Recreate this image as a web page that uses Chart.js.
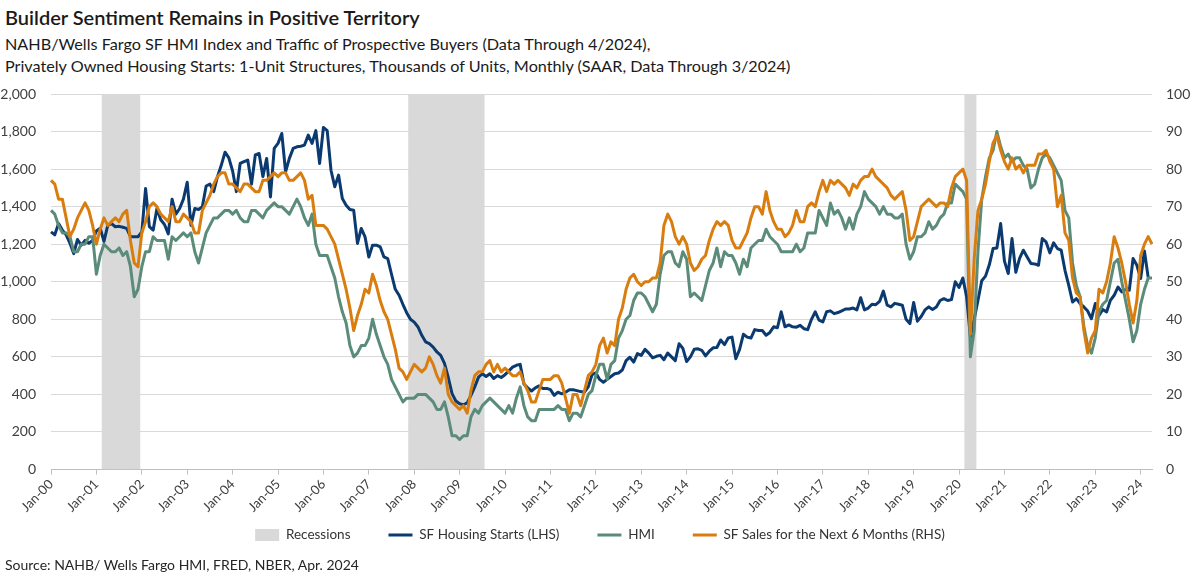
<!DOCTYPE html>
<html><head><meta charset="utf-8">
<script src="https://cdn.jsdelivr.net/npm/chart.js@4.4.1/dist/chart.umd.min.js"></script>
<style>
html,body{margin:0;padding:0;background:#fff;}
body{width:1200px;height:575px;position:relative;overflow:hidden;font-family:Lato,"Open Sans",sans-serif;color:#1a1a1a;}
#title{position:absolute;left:5px;top:5px;font-size:20px;font-weight:600;white-space:nowrap;}
#sub{position:absolute;left:5px;top:33px;font-size:16.2px;line-height:22px;white-space:nowrap;}
#src{position:absolute;left:5px;top:556px;font-size:14px;white-space:nowrap;color:#262626;}
canvas{position:absolute;left:0;top:0;}
</style></head><body>
<div id="title">Builder Sentiment Remains in Positive Territory</div>
<div id="sub">NAHB/Wells Fargo SF HMI Index and Traffic of Prospective Buyers (Data Through 4/2024),<br>Privately Owned Housing Starts: 1-Unit Structures, Thousands of Units, Monthly (SAAR, Data Through 3/2024)</div>
<canvas id="c" width="1200" height="575"></canvas>
<div id="src">Source: NAHB/ Wells Fargo HMI, FRED, NBER, Apr. 2024</div>
<script>
// ---- categories ----
const monthNames = ['Jan','Feb','Mar','Apr','May','Jun','Jul','Aug','Sep','Oct','Nov','Dec'];
const firstYear = 2000, lastYear = 2024, lastMonthOfLastYear = 4;

// ---- recession periods (NBER, as drawn) ----
const recessionPeriods = [['Mar-01','Dec-01'],['Dec-07','Jul-09'],['Mar-20','May-20']];

// ---- SF Housing Starts (thousands, SAAR, LHS), Jan-00 .. Mar-24 ----
const starts = [
1266,1250,1310,1275,1250,1205,1150,1225,1195,1220,1205,1220,
1270,1285,1215,1300,1310,1293,1295,1290,1284,1240,1240,1240,
1265,1497,1293,1275,1390,1330,1305,1255,1440,1360,1390,1440,
1530,1300,1390,1385,1400,1510,1520,1480,1560,1620,1690,1660,
1590,1480,1630,1640,1648,1520,1675,1683,1560,1657,1452,1710,
1737,1790,1586,1657,1710,1719,1722,1728,1781,1737,1805,1630,
1822,1805,1594,1506,1568,1443,1408,1385,1381,1204,1284,1239,
1132,1195,1195,1186,1132,1123,1040,960,928,880,835,800,
785,759,715,680,670,652,626,608,565,490,404,365,
350,345,355,395,440,492,510,495,510,485,500,490,
505,525,545,555,560,455,435,418,435,445,432,432,
425,395,412,403,412,425,425,420,415,412,440,505,
515,480,465,480,495,510,514,530,580,598,572,617,
608,640,620,595,603,608,585,620,600,580,670,645,
575,600,640,643,635,605,630,648,650,690,665,700,
705,590,640,720,705,700,745,740,740,715,730,760,
755,840,760,770,760,758,768,750,745,800,840,795,
786,840,845,830,836,845,855,855,860,850,915,850,
860,880,878,895,950,875,866,885,880,875,800,777,
890,790,815,850,866,852,865,900,910,900,905,1000,
970,1020,920,706,800,900,1005,1030,1090,1177,1180,1310,
1110,1044,1230,1050,1124,1168,1132,1097,1095,1088,1230,1212,
1154,1207,1177,1168,1061,981,892,910,884,866,844,803,
884,821,852,839,901,928,972,946,959,955,1124,1088,
1017,1164,1022
];

// ---- NAHB/Wells Fargo HMI (RHS), Jan-00 .. Apr-24 ----
const hmi = [
69,68,65,63,63,62,58,58,60,60,62,62,
52,57,60,59,58,58,59,57,58,54,46,48,
54,58,58,62,61,61,61,56,62,61,62,63,
62,63,58,55,59,63,65,67,67,68,69,69,
68,69,67,66,66,69,69,68,67,69,70,71,
70,70,69,68,70,72,70,67,65,68,60,57,
57,57,54,51,46,42,39,33,30,31,33,33,
35,40,36,33,30,28,24,22,20,18,19,19,
19,20,20,20,19,18,16,16,18,14,9,9,
8,9,9,14,16,15,17,18,19,18,17,16,
15,17,15,19,22,17,14,13,13,16,16,16,
16,16,17,16,16,13,15,15,14,17,20,21,
25,28,28,24,28,29,35,37,40,41,45,47,
47,46,44,42,44,52,57,58,58,55,54,58,
56,46,47,46,45,49,53,55,59,54,58,57,
57,55,52,56,54,59,60,61,61,64,62,61,
60,58,58,58,58,60,58,59,63,63,63,69,
67,65,71,68,69,67,64,67,64,68,70,74,
72,71,70,68,70,68,68,67,67,68,60,56,
58,62,62,63,66,64,65,67,68,71,71,76,
75,74,72,30,37,58,72,78,83,85,90,86,
83,84,82,83,83,81,80,75,76,80,83,84,
83,81,79,77,69,67,55,49,46,38,33,31,
35,42,44,45,50,55,56,50,45,40,34,37,
44,48,51,51
];

// ---- SF Sales for the Next 6 Months (RHS), Jan-00 .. Apr-24 ----
const sales = [
77,76,72,72,67,62,64,67,69,71,69,65,
60,64,67,65,66,67,66,68,69,61,55,54,
63,66,70,71,70,68,67,66,70,66,66,68,
67,66,63,63,69,71,73,76,78,79,79,76,
76,75,74,76,76,75,74,74,77,77,78,79,
78,79,79,77,77,78,79,77,72,73,65,65,
65,64,62,60,56,52,48,43,37,41,44,48,
47,52,49,45,42,40,36,32,27,26,24,26,
28,27,26,27,30,28,25,23,27,20,18,17,
16,17,15,21,25,26,26,28,29,26,28,26,
27,26,25,25,26,23,21,18,18,21,24,24,
24,25,25,23,19,15,20,20,17,21,25,26,
28,33,35,31,34,33,40,43,48,51,52,50,
49,50,50,51,51,55,65,68,66,62,60,62,
60,55,53,54,56,57,61,64,66,65,66,65,
61,59,59,61,63,67,70,70,68,74,69,66,
64,64,62,63,65,69,66,66,70,71,70,74,
77,74,77,76,77,76,75,73,76,75,77,78,
78,80,78,77,76,75,73,72,73,74,69,61,
62,66,70,71,72,71,70,71,71,70,75,78,
79,80,77,36,56,69,72,76,82,87,89,85,
82,80,83,80,81,79,81,81,81,84,84,85,
82,80,70,73,63,61,51,47,46,37,31,35,
37,48,47,50,55,62,59,55,50,44,39,45,
57,60,62,60
];

// ---- axis tick settings ----
const leftTicks = {min:0, max:2000, step:200};
const rightTicks = {min:0, max:100, step:10};

// build category labels
const categories = [];
for (let y = firstYear; y <= lastYear; y++) {
  const lastM = (y === lastYear) ? lastMonthOfLastYear : 12;
  for (let m = 0; m < lastM; m++) categories.push(monthNames[m] + '-' + String(y % 100).padStart(2,'0'));
}
const recession = categories.map(() => null);
recessionPeriods.forEach(([a,b]) => {
  const i0 = categories.indexOf(a), i1 = categories.indexOf(b);
  for (let i = i0; i <= i1; i++) recession[i] = leftTicks.max;
});

const NAVY = '#0b3a70', GREEN = '#5b8b79', ORANGE = '#d97d0f', GREY = '#d9d9d9';
const FONT = 'Lato';
const LEGEND_PAD = 38, LEGEND_FONT = 13.5, LEGEND_ROW_Y = 535;

const isJan = i => categories[i] && categories[i].startsWith('Jan');

// move the legend row up into the free band under the rotated tick labels
const legendShift = {
  id:'legendShift',
  afterLayout(chart){
    const lg = chart.legend; if (!lg) return;
    const dy = (LEGEND_ROW_Y - LEGEND_PAD - LEGEND_FONT/2) - lg.top;
    lg.top += dy; lg.bottom += dy;
  }
};

new Chart(document.getElementById('c'), {
  type: 'line',
  plugins: [legendShift],
  data: {
    labels: categories,
    datasets: [
      {type:'bar', label:'Recessions', data: recession, yAxisID:'y', backgroundColor: GREY, borderWidth:0,
       barPercentage:1, categoryPercentage:1, order:10},
      {type:'line', label:'SF Housing Starts (LHS)', data: starts, yAxisID:'y', borderColor: NAVY, backgroundColor: NAVY,
       borderWidth:3, pointRadius:0, tension:0, order:3, borderJoinStyle:'round'},
      {type:'line', label:'HMI', data: hmi, yAxisID:'y1', borderColor: GREEN, backgroundColor: GREEN,
       borderWidth:3, pointRadius:0, tension:0, order:2, borderJoinStyle:'round'},
      {type:'line', label:'SF Sales for the Next 6 Months (RHS)', data: sales, yAxisID:'y1', borderColor: ORANGE, backgroundColor: ORANGE,
       borderWidth:3, pointRadius:0, tension:0, order:1, borderJoinStyle:'round'}
    ]
  },
  options: {
    responsive:false, animation:false, devicePixelRatio:1,
    layout:{padding:{top:94, left:0, right:0, bottom:0}},
    plugins:{
      tooltip:{enabled:false},
      title:{display:false},
      legend:{
        display:true, position:'bottom', align:'center',
        labels:{
          usePointStyle:true, pointStyleWidth:24, boxHeight:12, padding:LEGEND_PAD,
          color:'#333', font:{family:FONT, size:LEGEND_FONT},
          sort:(a,b)=>a.datasetIndex-b.datasetIndex,
          generateLabels:(chart)=>chart.data.datasets.map((ds,i)=>({
            text: ds.label, datasetIndex:i, hidden:false, fontColor:'#333',
            fillStyle: ds.type==='bar' ? ds.backgroundColor : ds.borderColor,
            strokeStyle: ds.type==='bar' ? 'rgba(0,0,0,0)' : ds.borderColor,
            lineWidth: ds.type==='bar' ? 0 : 3,
            pointStyle: ds.type==='bar' ? 'rect' : 'line'
          }))
        }
      }
    },
    scales:{
      x:{
        type:'category', offset:false,
        grid:{display:true, drawOnChartArea:false, drawTicks:true, tickLength:5, offset:false,
              color:(ctx)=> isJan(ctx.index) ? '#bfbfbf' : 'rgba(0,0,0,0)'},
        border:{display:true, color:'#bfbfbf', width:1},
        ticks:{autoSkip:false, maxRotation:45, minRotation:45, padding:2, color:'#404040',
               font:{family:FONT, size:13},
               callback:function(v,i){ return isJan(i) ? categories[i] : ''; }},
        afterFit:(s)=>{ s.height = 44; }
      },
      y:{
        position:'left', min:leftTicks.min, max:leftTicks.max,
        grid:{color:'#d9d9d9', lineWidth:1, drawTicks:false},
        border:{display:false},
        ticks:{stepSize:leftTicks.step, padding:15, color:'#404040', font:{family:FONT, size:14},
               callback:(v)=>v.toLocaleString('en-US')},
        afterFit:(s)=>{ s.width = 51; }
      },
      y1:{
        position:'right', min:rightTicks.min, max:rightTicks.max,
        grid:{drawOnChartArea:false, drawTicks:false},
        border:{display:false},
        ticks:{stepSize:rightTicks.step, padding:14, color:'#404040', font:{family:FONT, size:14}},
        afterFit:(s)=>{ s.width = 48; }
      }
    }
  }
});
</script>
</body></html>
